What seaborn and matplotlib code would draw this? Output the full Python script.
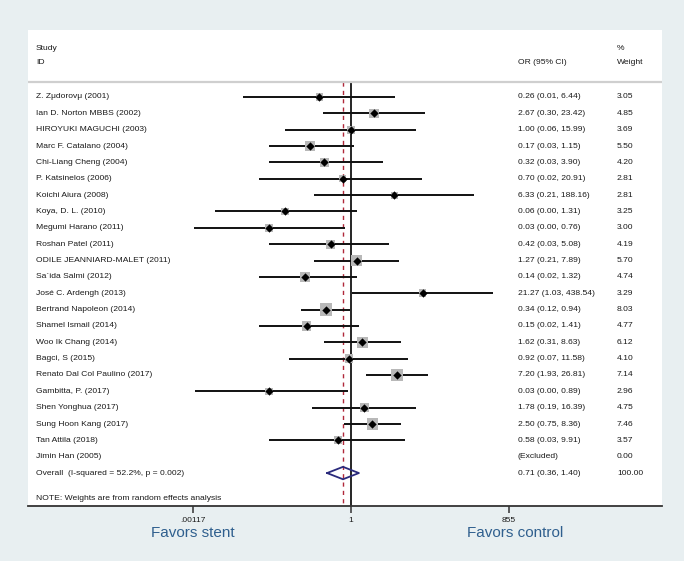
import numpy as np
import pandas as pd
import matplotlib
matplotlib.use("Agg")
import matplotlib.pyplot as plt
import matplotlib.transforms as mtransforms
import seaborn as sns

# Données
studies = [
    "Z. Zμdorovμ (2001)", "Ian D. Norton MBBS (2002)", "HIROYUKI MAGUCHI (2003)",
    "Marc F. Catalano (2004)", "Chi-Liang Cheng (2004)", "P. Katsinelos (2006)",
    "Koichi Aiura (2008)", "Koya, D. L. (2010)", "Megumi Harano (2011)",
    "Roshan Patel (2011)", "ODILE JEANNIARD-MALET (2011)", "Sa`ida Salmi (2012)",
    "José C. Ardengh (2013)", "Bertrand Napoleon (2014)", "Shamel Ismail (2014)",
    "Woo Ik Chang (2014)", "Bagci, S (2015)", "Renato Dal Col Paulino (2017)",
    "Gambitta, P. (2017)", "Shen Yonghua (2017)", "Sung Hoon Kang (2017)",
    "Tan Attila (2018)", "Jimin Han (2005)",
]
odds = [0.26, 2.67, 1.00, 0.17, 0.32, 0.70, 6.33, 0.06, 0.03, 0.42, 1.27, 0.14,
        21.27, 0.34, 0.15, 1.62, 0.92, 7.20, 0.03, 1.78, 2.50, 0.58, np.nan]
ci_low = [0.01, 0.30, 0.06, 0.03, 0.03, 0.02, 0.21, 0.003, 0.0012, 0.03, 0.21, 0.02,
          1.03, 0.12, 0.02, 0.31, 0.07, 1.93, 0.0013, 0.19, 0.75, 0.03, np.nan]
ci_high = [6.44, 23.42, 15.99, 1.15, 3.90, 20.91, 188.16, 1.31, 0.76, 5.08, 7.89, 1.32,
           438.54, 0.94, 1.41, 8.63, 11.58, 26.81, 0.89, 16.39, 8.36, 9.91, np.nan]
or_labels = [
    "0.26 (0.01, 6.44)", "2.67 (0.30, 23.42)", "1.00 (0.06, 15.99)", "0.17 (0.03, 1.15)",
    "0.32 (0.03, 3.90)", "0.70 (0.02, 20.91)", "6.33 (0.21, 188.16)", "0.06 (0.00, 1.31)",
    "0.03 (0.00, 0.76)", "0.42 (0.03, 5.08)", "1.27 (0.21, 7.89)", "0.14 (0.02, 1.32)",
    "21.27 (1.03, 438.54)", "0.34 (0.12, 0.94)", "0.15 (0.02, 1.41)", "1.62 (0.31, 8.63)",
    "0.92 (0.07, 11.58)", "7.20 (1.93, 26.81)", "0.03 (0.00, 0.89)", "1.78 (0.19, 16.39)",
    "2.50 (0.75, 8.36)", "0.58 (0.03, 9.91)", "(Excluded)",
]
weights = [3.05, 4.85, 3.69, 5.50, 4.20, 2.81, 2.81, 3.25, 3.00, 4.19, 5.70, 4.74,
           3.29, 8.03, 4.77, 6.12, 4.10, 7.14, 2.96, 4.75, 7.46, 3.57, 0.00]

overall_label = "Overall  (I-squared = 52.2%, p = 0.002)"
overall_or, overall_low, overall_high = 0.71, 0.36, 1.40
tick_values = [0.00117, 1, 855]
tick_labels = [".00117", "1", "855"]

df = pd.DataFrame({"study": studies, "or": odds, "lo": ci_low, "hi": ci_high,
                   "w": weights})
df["row"] = np.arange(len(df))
shown = df[df["w"] > 0]

sns.set_style("white")
plt.rcParams["font.family"] = ["Liberation Sans", "DejaVu Sans"]

bg = "#e8eff1"
txt = "#1a1a1a"
fig = plt.figure(figsize=(6.84, 5.61), dpi=100, facecolor=bg)
W, H = 684, 561
left, right, top, bottom = 28, 662, 30, 506
ax = fig.add_axes([left / W, 1 - bottom / H, (right - left) / W, (bottom - top) / H])
ax.set_facecolor("white")

# échelle log : 1 à x=351 px, 53.9 px par décade
ppd = 53.9
ax.set_xscale("log")
ax.set_xlim(10 ** ((left - 351) / ppd), 10 ** ((right - 351) / ppd))
y0, dy = 97, 16.35
ax.set_ylim((bottom - y0) / dy, (top - y0) / dy)
ysep = (82 - y0) / dy
ybot = (bottom - y0) / dy

# lignes verticales
ax.vlines(1, ysep, ybot, color="black", lw=1.2, zorder=1)
ax.vlines(overall_or, ysep, ybot, color="#b0283a", lw=1.0, linestyles=(0, (3, 3)), zorder=1)
ax.axhline(ysep, color="#cfcfcf", lw=1.6)

# intervalles de confiance
ax.hlines(shown["row"], shown["lo"], shown["hi"], color="#111111", lw=1.4, zorder=2)

# carrés gris (aire ~ poids) et losanges noirs
wmax = max(weights)
sns.scatterplot(data=shown, x="or", y="row", size="w", sizes=(0, 9.5 * wmax),
                size_norm=(0, wmax), marker="s", color="#b8b8b8", linewidth=0,
                legend=False, ax=ax, zorder=3)
sns.scatterplot(data=shown, x="or", y="row", marker="D", color="black", s=18,
                linewidth=0, legend=False, ax=ax, zorder=4)

# losange global
yo = len(studies)
hd = 0.38
ax.plot([overall_low, overall_or, overall_high, overall_or, overall_low],
        [yo, yo - hd, yo, yo + hd, yo], color="#2a2a7c", lw=1.3, zorder=4)

# colonnes de texte
tr = mtransforms.blended_transform_factory(ax.transAxes, ax.transData)
xs = (36 - left) / (right - left)
xo = (518 - left) / (right - left)
xw = (617 - left) / (right - left)
fs = 6.1
for i, name in enumerate(studies):
    ax.text(xs, i, name, transform=tr, fontsize=fs, va="center", color=txt)
    ax.text(xo, i, or_labels[i], transform=tr, fontsize=fs, va="center", color=txt)
    ax.text(xw, i, f"{weights[i]:.2f}", transform=tr, fontsize=fs, va="center", color=txt)
ax.text(xs, yo, overall_label, transform=tr, fontsize=fs, va="center", color=txt)
ax.text(xo, yo, f"{overall_or:.2f} ({overall_low:.2f}, {overall_high:.2f})",
        transform=tr, fontsize=fs, va="center", color=txt)
ax.text(xw, yo, "100.00", transform=tr, fontsize=fs, va="center", color=txt)
ax.text(xs, (499 - y0) / dy, "NOTE: Weights are from random effects analysis",
        transform=tr, fontsize=fs, va="center", color=txt)

# en-têtes
yh1, yh2 = (48 - y0) / dy, (63 - y0) / dy
ax.text(xs, yh1, "Study", transform=tr, fontsize=fs, va="center", color=txt)
ax.text(xs, yh2, "ID", transform=tr, fontsize=fs, va="center", color=txt)
ax.text(xo, yh2, "OR (95% CI)", transform=tr, fontsize=fs, va="center", color=txt)
ax.text(xw, yh1, "%", transform=tr, fontsize=fs, va="center", color=txt)
ax.text(xw, yh2, "Weight", transform=tr, fontsize=fs, va="center", color=txt)

# axe du bas
for s in ["top", "left", "right"]:
    ax.spines[s].set_visible(False)
ax.spines["bottom"].set_color("#333333")
ax.spines["bottom"].set_linewidth(1.3)
ax.set_xticks(tick_values)
ax.set_xticklabels(tick_labels)
ax.xaxis.set_minor_locator(matplotlib.ticker.NullLocator())
ax.tick_params(axis="x", bottom=True, direction="out", length=5, width=1.1,
               color="#333333", labelsize=6.0, pad=3, labelcolor=txt)
ax.set_yticks([])
ax.set_xlabel("")
ax.set_ylabel("")

fig.text(193 / W, 1 - 533 / H, "Favors stent", fontsize=11, color="#2f5f8e",
         ha="center", va="center")
fig.text(515 / W, 1 - 533 / H, "Favors control", fontsize=11, color="#2f5f8e",
         ha="center", va="center")

fig.savefig("out.png", dpi=100, facecolor=bg)
